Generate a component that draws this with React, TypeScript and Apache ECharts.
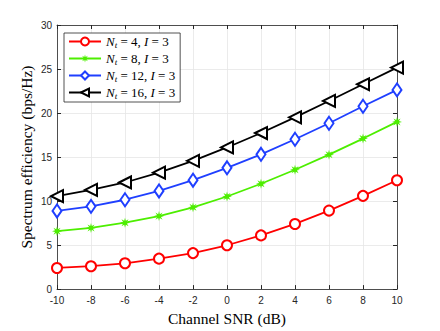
import React, { useEffect, useRef } from "react";
import * as echarts from "echarts";

const snr = [-10, -8, -6, -4, -2, 0, 2, 4, 6, 8, 10];
const nt4 = [2.4, 2.6, 2.93, 3.46, 4.09, 4.98, 6.1, 7.4, 8.92, 10.59, 12.37];
const nt8 = [6.58, 6.95, 7.54, 8.29, 9.29, 10.52, 11.97, 13.56, 15.27, 17.1, 18.99];
const nt12 = [8.88, 9.4, 10.15, 11.15, 12.37, 13.78, 15.31, 17.02, 18.84, 20.77, 22.63];
const nt16 = [10.55, 11.26, 12.11, 13.23, 14.57, 16.09, 17.73, 19.51, 21.37, 23.27, 25.16];
const ntValues = ["4", "8", "12", "16"];
const seriesNames = ntValues.map((n) => `Nt=${n}`);

function asteriskPath(): string {
  const pts: string[] = [];
  for (let k = 0; k < 16; k++) {
    const a = (k * Math.PI) / 8;
    const r = k % 2 === 0 ? 1 : 0.42;
    pts.push(`${(r * Math.cos(a)).toFixed(3)} ${(r * Math.sin(a)).toFixed(3)}`);
  }
  return "path://M" + pts.join(" L") + " Z";
}

export default function App() {
  const ref = useRef<HTMLDivElement>(null);
  useEffect(() => {
    if (!ref.current) return;
    const chart = echarts.init(ref.current, undefined, { renderer: "svg" });
    const axisColor = "#262626";
    const tickFont = { fontFamily: "Liberation Sans", fontSize: 10, color: axisColor };
    const mk = (name: string, data: number[], color: string, symbol: string, size: any, rotate = 0, filled = false) => ({
      name,
      type: "line",
      xAxisIndex: 0,
      yAxisIndex: 0,
      data: snr.map((x, i) => [x, data[i]]),
      lineStyle: { color, width: 1.8 },
      itemStyle: filled ? { color } : { color, borderColor: color, borderWidth: 1.6 },
      symbol,
      symbolSize: size,
      symbolRotate: rotate,
      showAllSymbol: true,
      z: 3,
    });
    const common = { min: -10, max: 10, interval: 2 };
    const boxLine = { show: true, onZero: false, lineStyle: { color: axisColor, width: 0.8 } };
    chart.setOption({
      animation: false,
      backgroundColor: "#ffffff",
      grid: { left: 57, right: 43, top: 25, bottom: 37 },
      legend: {
        orient: "vertical",
        left: 64,
        top: 33,
        data: seriesNames,
        backgroundColor: "#ffffff",
        borderColor: "#262626",
        borderWidth: 0.8,
        padding: [2, 5, 2, 4],
        itemWidth: 32,
        itemHeight: 10,
        itemGap: 3,
        formatter: (name: string) => {
          const idx = seriesNames.indexOf(name);
          return `{i|N}{s|t}{n| = ${ntValues[idx]}, }{i|I}{n| = 3}`;
        },
        textStyle: {
          rich: {
            i: { fontFamily: "Liberation Serif", fontStyle: "italic", fontSize: 13, color: "#000" },
            s: { fontFamily: "Liberation Serif", fontStyle: "italic", fontSize: 9, color: "#000", verticalAlign: "bottom", padding: [6, 0, 0, 0] },
            n: { fontFamily: "Liberation Serif", fontSize: 13, color: "#000" },
          },
        },
      },
      xAxis: [
        {
          type: "value",
          ...common,
          name: "Channel SNR (dB)",
          nameLocation: "middle",
          nameGap: 18,
          nameTextStyle: { fontFamily: "Liberation Serif", fontSize: 15.5, color: "#000" },
          axisLine: boxLine,
          axisTick: { inside: true, length: 4, lineStyle: { color: axisColor } },
          axisLabel: { ...tickFont, margin: 6 },
          splitLine: { show: true, lineStyle: { color: "#e6e6e6", width: 0.8 } },
        },
        {
          type: "value",
          ...common,
          position: "top",
          axisLine: boxLine,
          axisTick: { show: true, inside: true, length: 4, lineStyle: { color: axisColor } },
          axisLabel: { show: false },
          splitLine: { show: false },
        },
      ],
      yAxis: [
        {
          type: "value",
          min: 0,
          max: 30,
          interval: 5,
          name: "Spectrum efficiency (bps/Hz)",
          nameLocation: "middle",
          nameGap: 23,
          nameMoveOverlap: false,
          nameTextStyle: { fontFamily: "Liberation Serif", fontSize: 15.5, color: "#000" },
          axisLine: boxLine,
          axisTick: { show: true, inside: true, length: 4, lineStyle: { color: axisColor } },
          axisLabel: { ...tickFont, margin: 5 },
          splitLine: { show: true, lineStyle: { color: "#e6e6e6", width: 0.8 } },
        },
        {
          type: "value",
          min: 0,
          max: 30,
          interval: 5,
          position: "right",
          axisLine: boxLine,
          axisTick: { show: true, inside: true, length: 4, lineStyle: { color: axisColor } },
          axisLabel: { show: false },
          splitLine: { show: false },
        },
      ],
      series: [
        mk(seriesNames[0], nt4, "#ff0000", "emptyCircle", 10),
        mk(seriesNames[1], nt8, "#4dee00", asteriskPath(), 10, 0, true),
        mk(seriesNames[2], nt12, "#1f3fff", "emptyDiamond", [9, 13]),
        mk(seriesNames[3], nt16, "#000000", "emptyTriangle", 12, 90),
      ],
    });
    return () => chart.dispose();
  }, []);
  return <div ref={ref} style={{ position: "absolute", left: 0, top: 0, width: 440, height: 331 }} />;
}
